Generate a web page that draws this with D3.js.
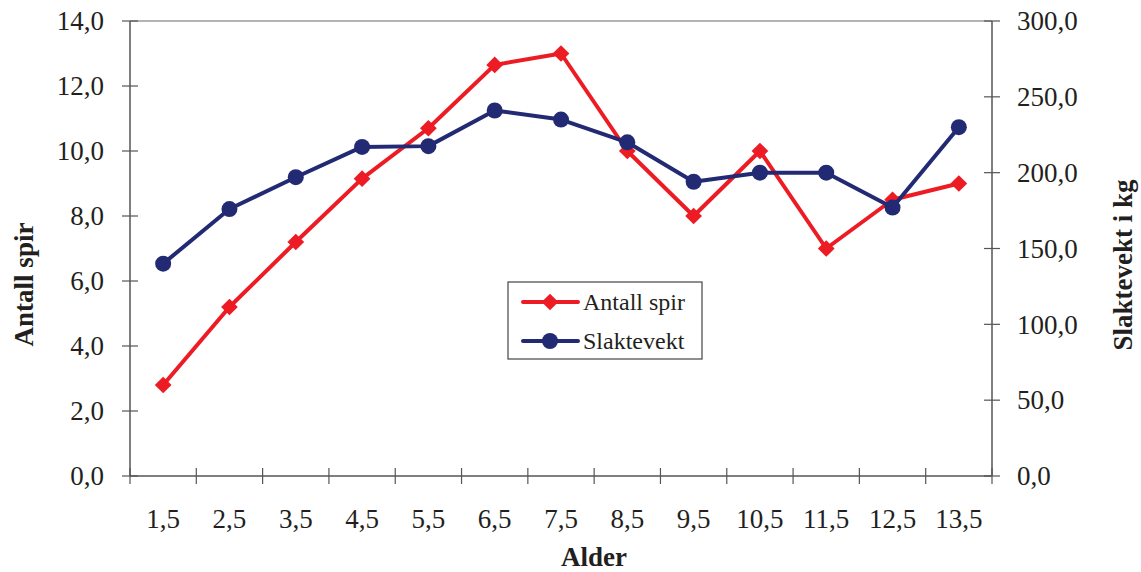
<!DOCTYPE html>
<html>
<head>
<meta charset="utf-8">
<script src="https://cdn.jsdelivr.net/npm/d3@7"></script>
<style>
	body { margin: 0; background: #fff; }
	text { font-family: "Liberation Serif", "Times New Roman", serif; fill: #231f20; }
</style>
</head>
<body>
<div id="chart"></div>
<script>
var ages = ["1,5", "2,5", "3,5", "4,5", "5,5", "6,5", "7,5", "8,5", "9,5", "10,5", "11,5", "12,5", "13,5"];
var antallSpir = [2.8, 5.2, 7.2, 9.15, 10.7, 12.65, 13.0, 10.0, 8.0, 10.0, 7.0, 8.5, 9.0];
var slaktevekt = [140, 176, 197, 217, 217.5, 241, 235, 220, 194, 200, 200, 177, 230];
var leftTicks = [0, 2, 4, 6, 8, 10, 12, 14];
var rightTicks = [0, 50, 100, 150, 200, 250, 300];

var width = 1141, height = 572;
var margin = { top: 21, right: 149, bottom: 96, left: 130 };
var innerW = width - margin.left - margin.right,
	innerH = height - margin.top - margin.bottom;

var red = "#ed1c24", navy = "#232a74";
var fmt = function(d) { return d3.format(".1f")(d).replace(".", ","); };

var svg = d3.select("#chart").append("svg")
	.attr("width", width)
	.attr("height", height);

var g = svg.append("g").attr("transform", "translate(" + margin.left + "," + margin.top + ")");

var x = d3.scaleBand().domain(ages).range([0, innerW]);
var yL = d3.scaleLinear().domain([0, 14]).range([innerH, 0]);
var yR = d3.scaleLinear().domain([0, 300]).range([innerH, 0]);

// top frame line
g.append("line")
	.attr("x1", 0).attr("x2", innerW)
	.attr("y1", 0).attr("y2", 0)
	.attr("stroke", "#9a9a9a").attr("stroke-width", 1.5);

// left axis
var left = g.append("g").attr("class", "axis");
left.append("line").attr("x1", 0).attr("x2", 0).attr("y1", 0).attr("y2", innerH)
	.attr("stroke", "#555").attr("stroke-width", 1.5);
left.selectAll(".tick").data(leftTicks).enter().append("line")
	.attr("x1", -8).attr("x2", 8)
	.attr("y1", function(d) { return yL(d); }).attr("y2", function(d) { return yL(d); })
	.attr("stroke", "#555").attr("stroke-width", 1.2);
left.selectAll("text").data(leftTicks).enter().append("text")
	.attr("x", -26)
	.attr("y", function(d) { return yL(d); })
	.attr("dy", "0.34em")
	.attr("text-anchor", "end")
	.style("font-size", "27px")
	.text(fmt);

// right axis
var right = g.append("g").attr("transform", "translate(" + innerW + ",0)");
right.append("line").attr("x1", 0).attr("x2", 0).attr("y1", 0).attr("y2", innerH)
	.attr("stroke", "#555").attr("stroke-width", 1.5);
right.selectAll(".tick").data(rightTicks).enter().append("line")
	.attr("x1", -8).attr("x2", 8)
	.attr("y1", function(d) { return yR(d); }).attr("y2", function(d) { return yR(d); })
	.attr("stroke", "#555").attr("stroke-width", 1.2);
right.selectAll("text").data(rightTicks).enter().append("text")
	.attr("x", 25)
	.attr("y", function(d) { return yR(d); })
	.attr("dy", "0.34em")
	.style("font-size", "27px")
	.text(fmt);

// bottom axis
var bottom = g.append("g").attr("transform", "translate(0," + innerH + ")");
bottom.append("line").attr("x1", 0).attr("x2", innerW)
	.attr("stroke", "#555").attr("stroke-width", 1.5);
var bounds = ages.map(function(a) { return x(a); }).concat([innerW]);
bottom.selectAll(".tick").data(bounds).enter().append("line")
	.attr("x1", function(d) { return d; }).attr("x2", function(d) { return d; })
	.attr("y1", -8).attr("y2", 8)
	.attr("stroke", "#555").attr("stroke-width", 1.2);
bottom.selectAll("text").data(ages).enter().append("text")
	.attr("x", function(d) { return x(d) + x.bandwidth() / 2; })
	.attr("y", 52)
	.attr("text-anchor", "middle")
	.style("font-size", "27px")
	.text(function(d) { return d; });

// axis titles
svg.append("text")
	.attr("transform", "translate(33," + (margin.top + innerH / 2 + 36) + ") rotate(-90)")
	.attr("text-anchor", "middle")
	.style("font-size", "27px").style("font-weight", "bold")
	.text("Antall spir");
svg.append("text")
	.attr("x", 594).attr("y", 566)
	.attr("text-anchor", "middle")
	.style("font-size", "27px").style("font-weight", "bold")
	.text("Alder");
svg.append("text")
	.attr("transform", "translate(1132,265) rotate(-90)")
	.attr("text-anchor", "middle")
	.style("font-size", "27px").style("font-weight", "bold")
	.text("Slaktevekt i kg");

var cx = function(d, i) { return x(ages[i]) + x.bandwidth() / 2; };
// square turned 45 degrees, like the Excel diamond marker
var diamond = d3.symbol().type(d3.symbolSquare).size(140);

// Antall spir (left axis)
g.append("path")
	.datum(antallSpir)
	.attr("fill", "none").attr("stroke", red).attr("stroke-width", 4)
	.attr("stroke-linejoin", "round")
	.attr("d", d3.line().x(cx).y(function(d) { return yL(d); }));
g.selectAll(".dia").data(antallSpir).enter().append("path")
	.attr("class", "dia")
	.attr("transform", function(d, i) { return "translate(" + cx(d, i) + "," + yL(d) + ") rotate(45)"; })
	.attr("d", diamond)
	.attr("fill", red);

// Slaktevekt (right axis)
g.append("path")
	.datum(slaktevekt)
	.attr("fill", "none").attr("stroke", navy).attr("stroke-width", 4)
	.attr("stroke-linejoin", "round")
	.attr("d", d3.line().x(cx).y(function(d) { return yR(d); }));
g.selectAll(".dot").data(slaktevekt).enter().append("circle")
	.attr("class", "dot")
	.attr("cx", cx).attr("cy", function(d) { return yR(d); })
	.attr("r", 8)
	.attr("fill", navy);

// legend
var legend = svg.append("g").attr("transform", "translate(508,282)");
legend.append("rect")
	.attr("width", 194).attr("height", 77)
	.attr("fill", "#fff").attr("stroke", "#444").attr("stroke-width", 1.2);
var items = [
	{ name: "Antall spir", color: red, shape: "diamond", y: 20 },
	{ name: "Slaktevekt", color: navy, shape: "circle", y: 59 }
];
items.forEach(function(it) {
	var row = legend.append("g").attr("transform", "translate(0," + it.y + ")");
	row.append("line").attr("x1", 15).attr("x2", 70)
		.attr("stroke", it.color).attr("stroke-width", 4).attr("stroke-linecap", "round");
	if (it.shape === "diamond") {
		row.append("path").attr("transform", "translate(42,0) rotate(45)").attr("d", diamond).attr("fill", it.color);
	} else {
		row.append("circle").attr("cx", 42).attr("r", 8).attr("fill", it.color);
	}
	row.append("text").attr("x", 75).attr("dy", "0.34em")
		.style("font-size", "24px").text(it.name);
});
</script>
</body>
</html>
